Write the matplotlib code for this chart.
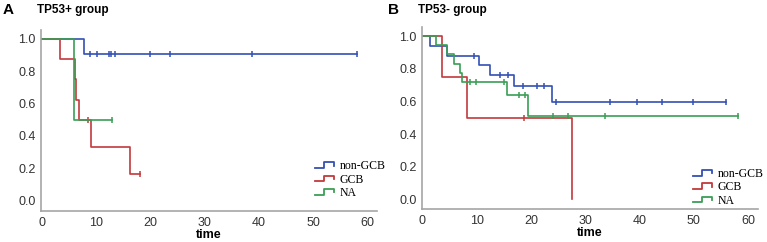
import numpy as np
import matplotlib.pyplot as plt
from matplotlib.lines import Line2D
from matplotlib.legend_handler import HandlerBase

# Kaplan-Meier curves: event times, survival after each event, censor times, end time
groups = ["non-GCB", "GCB", "NA"]
colors = {"non-GCB": "#3450b4", "GCB": "#c2393c", "NA": "#3b9e55"}

# panel A: TP53+ group
a_nongcb_t = [7.8]
a_nongcb_s = [0.909]
a_nongcb_c = [8.9, 10.1, 12.4, 12.7, 13.5, 19.9, 23.6, 38.8, 58.2]
a_gcb_t = [3.3, 6.0, 6.3, 6.8, 9.0, 16.3]
a_gcb_s = [0.875, 0.75, 0.625, 0.5, 0.333, 0.167]
a_gcb_c = [8.5, 18.1]
a_na_t = [5.8]
a_na_s = [0.5]
a_na_c = [12.9]

# panel B: TP53- group
b_nongcb_t = [1.5, 4.5, 10.5, 12.5, 16.9, 23.8]
b_nongcb_s = [0.941, 0.882, 0.823, 0.765, 0.695, 0.596]
b_nongcb_c = [9.6, 14.3, 15.8, 18.6, 21.1, 22.4, 24.6, 34.5, 39.5, 44.2, 49.8, 55.9]
b_gcb_t = [3.7, 8.2, 27.6]
b_gcb_s = [0.75, 0.5, 0.0]
b_gcb_c = [18.7]
b_na_t = [2.6, 4.5, 5.9, 6.9, 7.4, 15.6, 19.4]
b_na_s = [0.944, 0.889, 0.833, 0.778, 0.722, 0.64, 0.513]
b_na_c = [8.8, 9.8, 15.1, 17.8, 18.9, 24.1, 26.8, 33.6, 58.1]

panels = [
    ("A", "TP53+ group", {"non-GCB": (a_nongcb_t, a_nongcb_s, a_nongcb_c),
                          "GCB": (a_gcb_t, a_gcb_s, a_gcb_c),
                          "NA": (a_na_t, a_na_s, a_na_c)}),
    ("B", "TP53- group", {"non-GCB": (b_nongcb_t, b_nongcb_s, b_nongcb_c),
                          "GCB": (b_gcb_t, b_gcb_s, b_gcb_c),
                          "NA": (b_na_t, b_na_s, b_na_c)}),
]

plt.rcParams['font.family'] = ['Liberation Sans', 'DejaVu Sans']


class StepHandler(HandlerBase):
    # little step-shaped icon like in the original legend
    def create_artists(self, legend, orig_handle, xdescent, ydescent, width, height, fontsize, trans):
        x0, y0 = -xdescent, -ydescent
        xs = [x0, x0 + 0.5 * width, x0 + 0.5 * width, x0 + width, x0 + width]
        ys = [y0 + 0.15 * height, y0 + 0.15 * height, y0 + 0.85 * height, y0 + 0.85 * height, y0 + 0.45 * height]
        line = Line2D(xs, ys, color=orig_handle.get_color(), lw=1.3, transform=trans)
        return [line]


W, H = 767, 242
fig = plt.figure(figsize=(W / 100, H / 100), dpi=100)

# axes boxes in pixels: left, top, right, bottom
boxes = [(41, 29.9, 377, 211.2), (422, 27.4, 758, 209.1)]
xlims = [(-0.2, 61.8), (-0.05, 61.8)]
ylims = [(-0.065, 1.056), (-0.06, 1.055)]
legend_anchor = [(0.815, 0.28), (0.806, 0.225)]
letter_x = [3, 388]
title_x = [37, 418]

for i, (letter, title, data) in enumerate(panels):
    l, t, r, b = boxes[i]
    ax = fig.add_axes([l / W, 1 - b / H, (r - l) / W, (b - t) / H])
    handles = []
    for g in groups:
        ev_t, ev_s, cens = data[g]
        end = max(ev_t + cens)
        times = [0] + ev_t + ([end] if end > ev_t[-1] else [])
        surv = [1.0] + ev_s + ([ev_s[-1]] if end > ev_t[-1] else [])
        ax.step(times, surv, where='post', color=colors[g], lw=1.2)
        idx = np.searchsorted(ev_t, cens, side='right')
        cs = [1.0 if k == 0 else ev_s[k - 1] for k in idx]
        ax.plot(cens, cs, ls='none', marker='|', ms=5, mew=1.1, color=colors[g])
        handles.append(Line2D([], [], color=colors[g]))
    ax.set_xlim(*xlims[i])
    ax.set_ylim(*ylims[i])
    ax.set_xticks(np.arange(0, 61, 10))
    ax.set_yticks(np.arange(0, 1.01, 0.2))
    ax.set_yticklabels([f"{v:.1f}" for v in np.arange(0, 1.01, 0.2)])
    ax.tick_params(length=0, labelsize=9, colors='#333333', pad=4)
    for s in ['top', 'right']:
        ax.spines[s].set_visible(False)
    for s in ['left', 'bottom']:
        ax.spines[s].set_color('#a5a5a5')
        ax.spines[s].set_linewidth(1.2)
    ax.set_xlabel("time", fontsize=9, fontweight='bold', labelpad=0.5)
    ax.legend(handles, groups, handler_map={Line2D: StepHandler()}, loc='upper left',
              bbox_to_anchor=legend_anchor[i], frameon=False, borderpad=0, borderaxespad=0,
              handlelength=1.6, handletextpad=0.5, labelspacing=0.1,
              prop={'family': 'Liberation Serif', 'size': 8.5})
    fig.text(letter_x[i] / W, 1 - 10 / H, letter, fontsize=11, fontweight='bold', va='center')
    fig.text(title_x[i] / W, 1 - 10 / H, title, fontsize=8.5, fontweight='bold', va='center')

fig.savefig("out.png", dpi=100)
